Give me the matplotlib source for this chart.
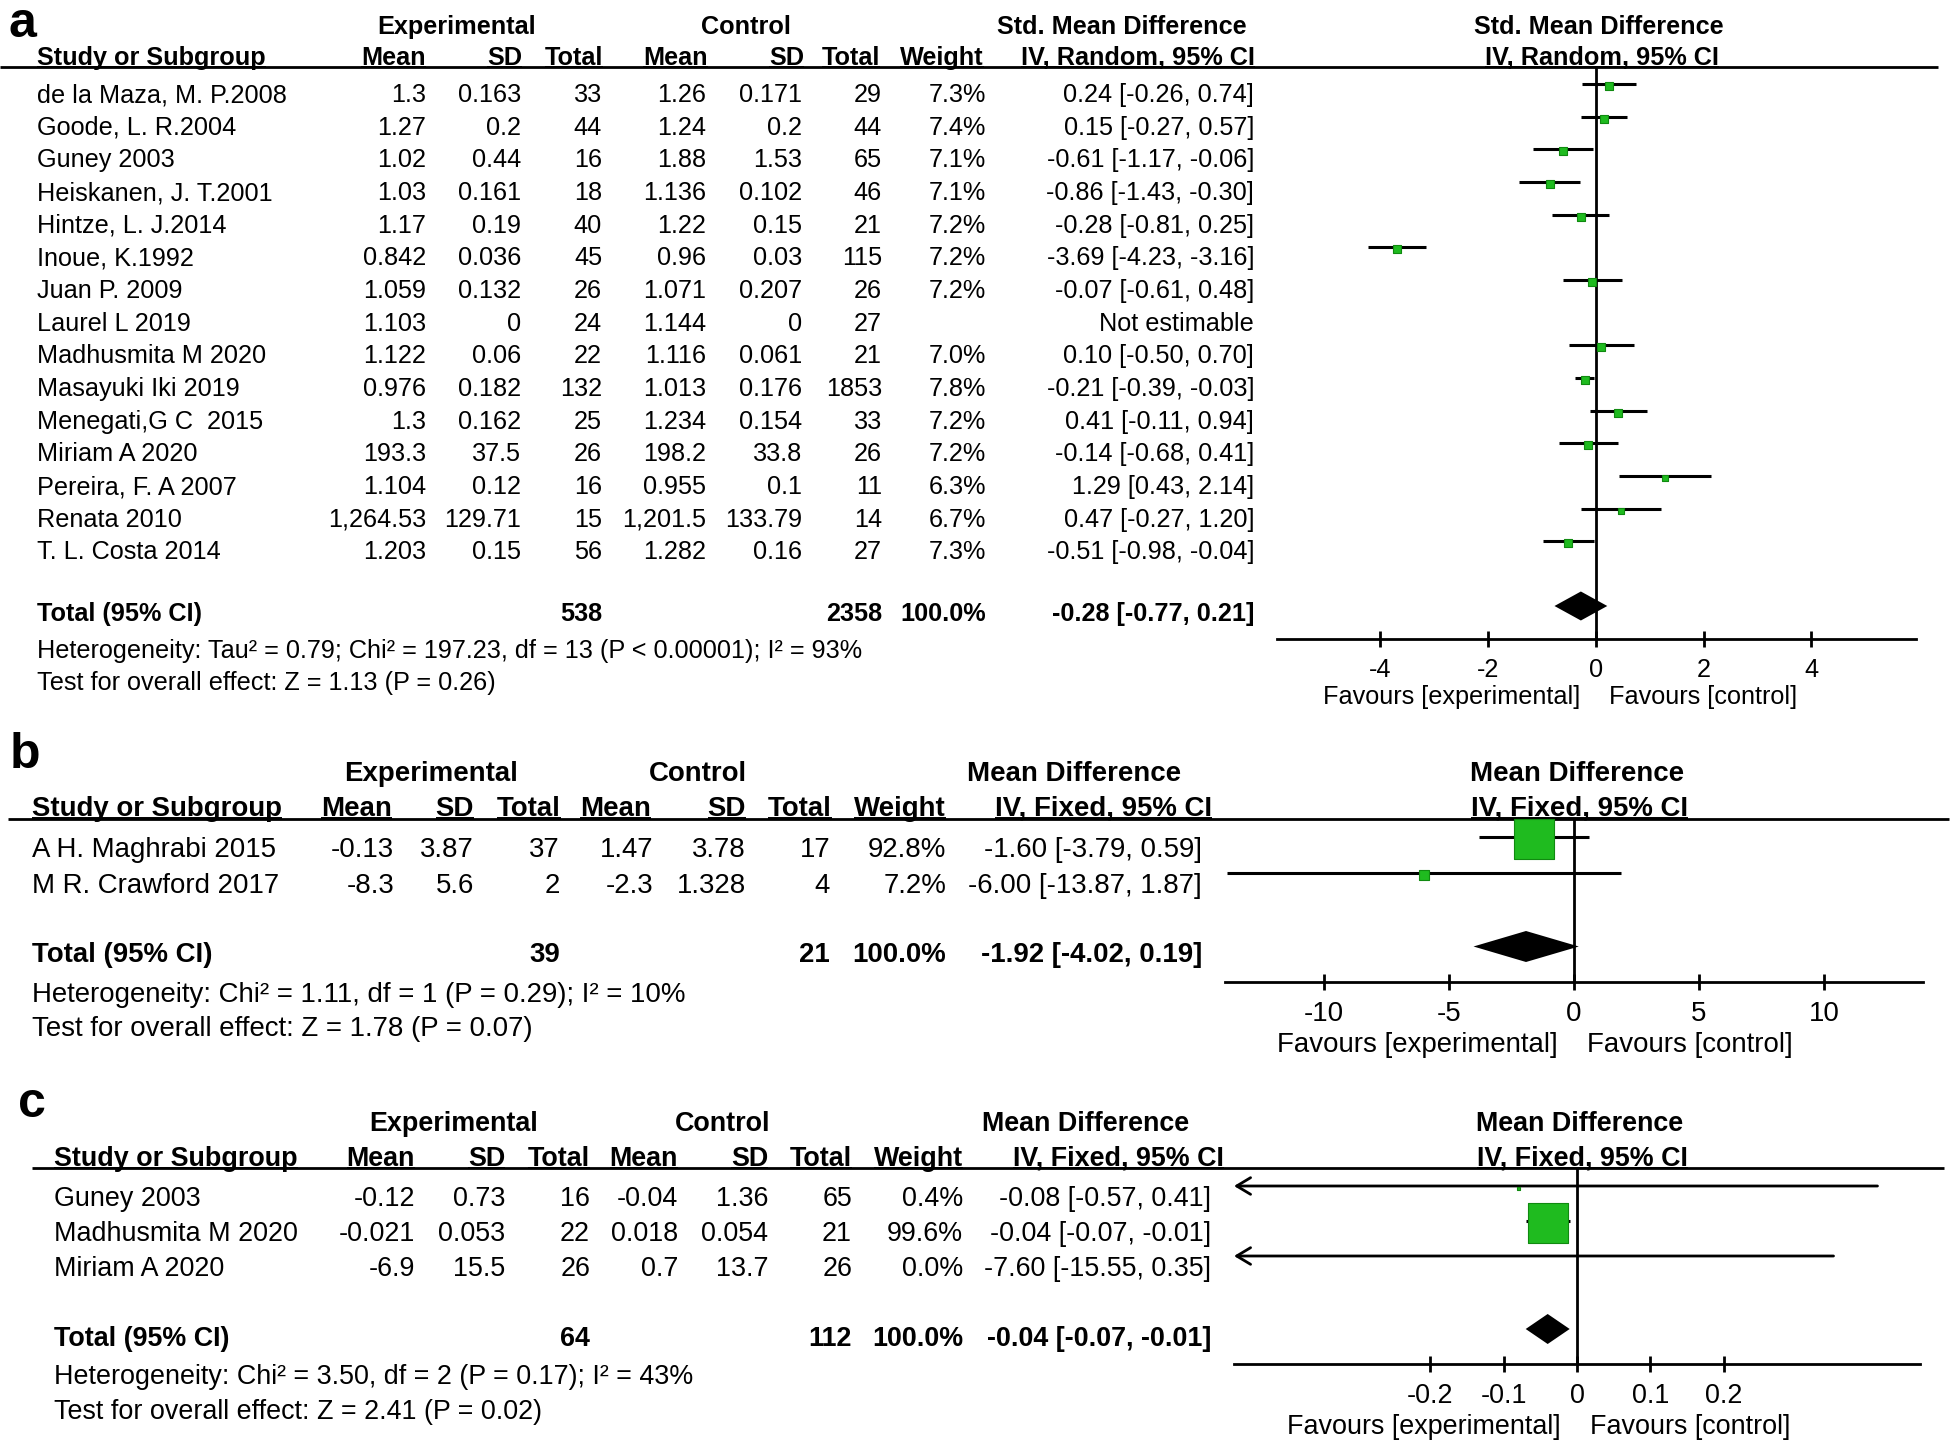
# forest.py
# Three RevMan-style forest plots (a, b, c) stacked in one figure

import numpy as np
import matplotlib.pyplot as plt

plt.rcParams['font.family'] = ['Liberation Sans', 'DejaVu Sans']
plt.rcParams['axes.unicode_minus'] = False

# ── 1. Data: panel a (Std. mean difference, random) ─────────
a_study = ["de la Maza, M. P.2008", "Goode, L. R.2004", "Guney 2003",
           "Heiskanen, J. T.2001", "Hintze, L. J.2014", "Inoue, K.1992",
           "Juan P. 2009", "Laurel L 2019", "Madhusmita M 2020",
           "Masayuki Iki 2019", "Menegati,G C  2015", "Miriam A 2020",
           "Pereira, F. A 2007", "Renata 2010", "T. L. Costa 2014"]
a_exp_mean = ["1.3", "1.27", "1.02", "1.03", "1.17", "0.842", "1.059", "1.103",
              "1.122", "0.976", "1.3", "193.3", "1.104", "1,264.53", "1.203"]
a_exp_sd = ["0.163", "0.2", "0.44", "0.161", "0.19", "0.036", "0.132", "0",
            "0.06", "0.182", "0.162", "37.5", "0.12", "129.71", "0.15"]
a_exp_n = [33, 44, 16, 18, 40, 45, 26, 24, 22, 132, 25, 26, 16, 15, 56]
a_ctl_mean = ["1.26", "1.24", "1.88", "1.136", "1.22", "0.96", "1.071", "1.144",
              "1.116", "1.013", "1.234", "198.2", "0.955", "1,201.5", "1.282"]
a_ctl_sd = ["0.171", "0.2", "1.53", "0.102", "0.15", "0.03", "0.207", "0",
            "0.061", "0.176", "0.154", "33.8", "0.1", "133.79", "0.16"]
a_ctl_n = [29, 44, 65, 46, 21, 115, 26, 27, 21, 1853, 33, 26, 11, 14, 27]
a_weight = [7.3, 7.4, 7.1, 7.1, 7.2, 7.2, 7.2, None, 7.0, 7.8, 7.2, 7.2, 6.3, 6.7, 7.3]
a_est = [0.24, 0.15, -0.61, -0.86, -0.28, -3.69, -0.07, None, 0.10, -0.21,
         0.41, -0.14, 1.29, 0.47, -0.51]
a_lo = [-0.26, -0.27, -1.17, -1.43, -0.81, -4.23, -0.61, None, -0.50, -0.39,
        -0.11, -0.68, 0.43, -0.27, -0.98]
a_hi = [0.74, 0.57, -0.06, -0.30, 0.25, -3.16, 0.48, None, 0.70, -0.03,
        0.94, 0.41, 2.14, 1.20, -0.04]
a_total = [538, 2358, -0.28, -0.77, 0.21]
a_het = "Heterogeneity: Tau² = 0.79; Chi² = 197.23, df = 13 (P < 0.00001); I² = 93%"
a_test = "Test for overall effect: Z = 1.13 (P = 0.26)"

# ── 2. Data: panel b (Mean difference, fixed) ───────────────
b_study = ["A H. Maghrabi 2015", "M R. Crawford 2017"]
b_exp_mean = ["-0.13", "-8.3"]
b_exp_sd = ["3.87", "5.6"]
b_exp_n = [37, 2]
b_ctl_mean = ["1.47", "-2.3"]
b_ctl_sd = ["3.78", "1.328"]
b_ctl_n = [17, 4]
b_weight = [92.8, 7.2]
b_est = [-1.60, -6.00]
b_lo = [-3.79, -13.87]
b_hi = [0.59, 1.87]
b_total = [39, 21, -1.92, -4.02, 0.19]
b_het = "Heterogeneity: Chi² = 1.11, df = 1 (P = 0.29); I² = 10%"
b_test = "Test for overall effect: Z = 1.78 (P = 0.07)"

# ── 3. Data: panel c (Mean difference, fixed) ───────────────
c_study = ["Guney 2003", "Madhusmita M 2020", "Miriam A 2020"]
c_exp_mean = ["-0.12", "-0.021", "-6.9"]
c_exp_sd = ["0.73", "0.053", "15.5"]
c_exp_n = [16, 22, 26]
c_ctl_mean = ["-0.04", "0.018", "0.7"]
c_ctl_sd = ["1.36", "0.054", "13.7"]
c_ctl_n = [65, 21, 26]
c_weight = [0.4, 99.6, 0.0]
c_est = [-0.08, -0.04, -7.60]
c_lo = [-0.57, -0.07, -15.55]
c_hi = [0.41, -0.01, 0.35]
c_total = [64, 112, -0.04, -0.07, -0.01]
c_het = "Heterogeneity: Chi² = 3.50, df = 2 (P = 0.17); I² = 43%"
c_test = "Test for overall effect: Z = 2.41 (P = 0.02)"

# ── 4. Layout (pixels of the 1960x1451 canvas) ──────────────
W, H = 1960, 1451
GREEN, GREEN_EDGE = "#1fbb1f", "#108a10"

lay_a = dict(label="a", fs=18.2, lab_x=8, lab_y=37, h1=34, h2=65, hline_y=67, hl0=0, hl1=1938,
             study_x=37, col_r=[426, 521, 602, 706, 802, 882, 986, 1254],
             hdr_r=[426, 522, 603, 708, 804, 880, 984, 1255],
             exp_c=457, ctl_c=746, meth_c=1122, row0=102, step=32.67, ci_off=18,
             tot_y=621, dia_off=15, dia_h=29, het_y=658, test_y=690,
             ax0=1277, ax1=1916, xlim=(-5.92, 5.94), axis_y=639,
             ticks=[-4, -2, 0, 2, 4], fav_y=704, box_k=2.7,
             title="Std. Mean Difference", method="IV, Random, 95% CI")
lay_b = dict(label="b", fs=19.9, lab_x=10, lab_y=768, h1=781, h2=816, hline_y=819, hl0=8, hl1=1949,
             study_x=32, col_r=[394, 474, 560, 653, 746, 830, 946, 1202],
             hdr_r=[392, 474, 561, 651, 746, 832, 946, 1212],
             exp_c=431, ctl_c=698, meth_c=1074, row0=857, step=36, ci_off=20,
             tot_y=962, dia_off=15.5, dia_h=31, het_y=1002, test_y=1036,
             ax0=1225, ax1=1923, xlim=(-13.96, 13.96), axis_y=982,
             ticks=[-10, -5, 0, 5, 10], fav_y=1052, box_k=4.05,
             title="Mean Difference", method="IV, Fixed, 95% CI")
lay_c = dict(label="c", fs=19.4, lab_x=18, lab_y=1117, h1=1131, h2=1166, hline_y=1168, hl0=32, hl1=1944,
             study_x=54, col_r=[415, 505, 590, 678, 768, 852, 963, 1211],
             hdr_r=[415, 505, 590, 678, 768, 852, 963, 1224],
             exp_c=454, ctl_c=723, meth_c=1086, row0=1206, step=35, ci_off=20,
             tot_y=1346, dia_off=17, dia_h=30, het_y=1384, test_y=1419,
             ax0=1234, ax1=1920, xlim=(-0.468, 0.468), axis_y=1364,
             ticks=[-0.2, -0.1, 0, 0.1, 0.2], fav_y=1434, box_k=4.0,
             title="Mean Difference", method="IV, Fixed, 95% CI")

fig = plt.figure(figsize=(W / 100, H / 100), dpi=100)
bg = fig.add_axes([0, 0, 1, 1])
bg.set_xlim(0, W)
bg.set_ylim(H, 0)
bg.axis("off")

underlined = []


def ci_text(e, l, h):
    return f"{e:.2f} [{l:.2f}, {h:.2f}]"


def panel(L, study, exp_mean, exp_sd, exp_n, ctl_mean, ctl_sd, ctl_n,
          weight, est, lo, hi, total, het, test):
    fs = L["fs"]

    def txt(x, y, s, ha="left", bold=False, size=fs, under=False):
        t = bg.text(x, y, s, ha=ha, va="baseline", fontsize=size,
                    fontweight="bold" if bold else "normal")
        if under:
            underlined.append((t, y))
        return t

    # headers
    txt(L["lab_x"], L["lab_y"], L["label"], bold=True, size=36)
    txt(L["exp_c"], L["h1"], "Experimental", ha="center", bold=True)
    txt(L["ctl_c"], L["h1"], "Control", ha="center", bold=True)
    txt(L["meth_c"], L["h1"], L["title"], ha="center", bold=True)
    txt(L["study_x"], L["h2"], "Study or Subgroup", bold=True, under=True)
    hdr = ["Mean", "SD", "Total", "Mean", "SD", "Total", "Weight", L["method"]]
    for x, s in zip(L["hdr_r"], hdr):
        txt(x, L["h2"], s, ha="right", bold=True, under=True)
    bg.hlines(L["hline_y"], L["hl0"], L["hl1"], color="k", lw=2)

    # table rows
    for i, name in enumerate(study):
        y = L["row0"] + i * L["step"]
        cells = [exp_mean[i], exp_sd[i], str(exp_n[i]),
                 ctl_mean[i], ctl_sd[i], str(ctl_n[i]),
                 "" if weight[i] is None else f"{weight[i]:.1f}%",
                 "Not estimable" if est[i] is None else ci_text(est[i], lo[i], hi[i])]
        txt(L["study_x"], y, name)
        for x, s in zip(L["col_r"], cells):
            txt(x, y, s, ha="right")

    # total + stats
    ty = L["tot_y"]
    txt(L["study_x"], ty, "Total (95% CI)", bold=True)
    txt(L["col_r"][2], ty, str(total[0]), ha="right", bold=True)
    txt(L["col_r"][5], ty, str(total[1]), ha="right", bold=True)
    txt(L["col_r"][6], ty, "100.0%", ha="right", bold=True)
    txt(L["col_r"][7], ty, ci_text(*total[2:]), ha="right", bold=True)
    txt(L["study_x"], L["het_y"], het)
    txt(L["study_x"], L["test_y"], test)

    # forest axes: x in effect units, y in canvas pixels
    ax = fig.add_axes([L["ax0"] / W, 0, (L["ax1"] - L["ax0"]) / W, 1])
    xmin, xmax = L["xlim"]
    ax.set_xlim(xmin, xmax)
    ax.set_ylim(H, 0)
    ax.patch.set_alpha(0)
    for s in ["top", "left", "right"]:
        ax.spines[s].set_visible(False)
    ax.spines["bottom"].set_position(("data", L["axis_y"]))
    ax.spines["bottom"].set_linewidth(2)
    ax.set_yticks([])
    ax.set_xticks(L["ticks"])
    ax.set_xticklabels([f"{t:g}" for t in L["ticks"]])
    ax.tick_params(axis="x", direction="inout", length=11, width=2, pad=8, labelsize=fs)

    ax.vlines(0, L["hline_y"], L["axis_y"], color="k", lw=2)
    ax.annotate(L["title"], xy=(0, L["h1"]), xytext=(2, 0), textcoords="offset points",
                ha="center", va="baseline", fontsize=fs, fontweight="bold")
    t = ax.annotate(L["method"], xy=(0, L["h2"]), xytext=(4, 0), textcoords="offset points",
                    ha="center", va="baseline", fontsize=fs, fontweight="bold")
    underlined.append((t, L["h2"]))

    for i in range(len(study)):
        if est[i] is None:
            continue
        y = L["row0"] + i * L["step"] - L["ci_off"]
        x0, x1 = max(lo[i], xmin), min(hi[i], xmax)
        if lo[i] < xmin:
            ax.annotate("", xy=(xmin, y), xytext=(x1, y),
                        arrowprops=dict(arrowstyle="->,head_length=0.5,head_width=0.3",
                                        lw=2, color="k", shrinkA=0, shrinkB=0,
                                        mutation_scale=20))
        else:
            ax.hlines(y, x0, x1, color="k", lw=2.2)
        if weight[i] and xmin < est[i] < xmax:
            side = max(L["box_k"] * np.sqrt(weight[i]), 3) * 0.72
            ax.scatter(est[i], y + 2, marker="s", s=side ** 2, color=GREEN,
                       edgecolors=GREEN_EDGE, linewidths=0.8, zorder=3)

    e, l, h = total[2:]
    yd, hh = ty - L["dia_off"], L["dia_h"] / 2
    ax.fill([l, e, h, e], [yd, yd - hh, yd, yd + hh], color="k", lw=0, zorder=3)

    ax.annotate("Favours [experimental]", xy=(0, L["fav_y"]), xytext=(-16 * 0.72, 0),
                textcoords="offset points", ha="right", va="baseline", fontsize=fs)
    ax.annotate("Favours [control]", xy=(0, L["fav_y"]), xytext=(13 * 0.72, 0),
                textcoords="offset points", ha="left", va="baseline", fontsize=fs)


panel(lay_a, a_study, a_exp_mean, a_exp_sd, a_exp_n, a_ctl_mean, a_ctl_sd, a_ctl_n,
      a_weight, a_est, a_lo, a_hi, a_total, a_het, a_test)
panel(lay_b, b_study, b_exp_mean, b_exp_sd, b_exp_n, b_ctl_mean, b_ctl_sd, b_ctl_n,
      b_weight, b_est, b_lo, b_hi, b_total, b_het, b_test)
panel(lay_c, c_study, c_exp_mean, c_exp_sd, c_exp_n, c_ctl_mean, c_ctl_sd, c_ctl_n,
      c_weight, c_est, c_lo, c_hi, c_total, c_het, c_test)

# ── 5. Underline the header labels ──────────────────────────
fig.canvas.draw()
renderer = fig.canvas.get_renderer()
inv = bg.transData.inverted()
for t, y in underlined:
    bb = t.get_window_extent(renderer)
    (xa, _), (xb, _) = inv.transform([(bb.x0, bb.y0), (bb.x1, bb.y0)])
    bg.hlines(y + 1.5, xa, xb, color="k", lw=1.4)

fig.savefig("out.png", dpi=100)
